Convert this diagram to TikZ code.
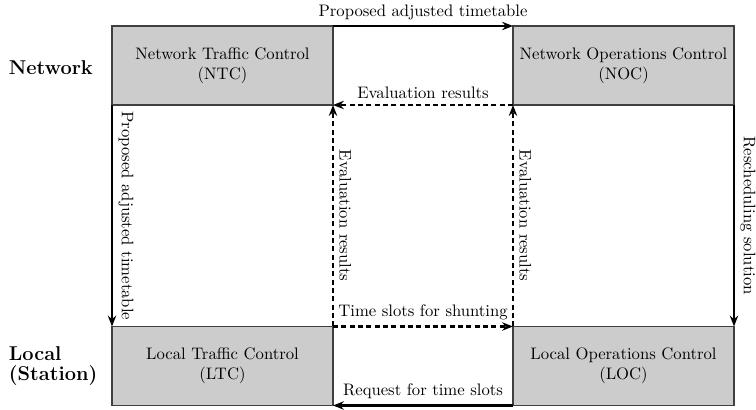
\documentclass[tikz,border=0pt]{standalone}
\usetikzlibrary{arrows.meta}
\begin{document}
\begin{tikzpicture}[x=0.6pt,y=-0.6pt,
  unit/.style={draw=black!75, fill=black!20, line width=0.7pt,
    minimum width=132.6pt, minimum height=47.4pt, inner sep=0pt, outer sep=0pt,
    align=center, font=\normalsize},
  flow/.style={line width=1.6pt, -{Stealth[length=6.5pt,width=5pt]}},
  reply/.style={flow, dash pattern=on 3pt off 2pt},
  level/.style={font=\large\bfseries, align=left, anchor=west},
  side/.style={midway, anchor=south, rotate=-90, inner sep=3pt}]
\useasboundingbox (0,0) rectangle (756,410);

% organisational units
\node[unit] (ntc) at (222.5,65.5) {Network Traffic Control\\(NTC)};
\node[unit] (noc) at (623.5,65.5) {Network Operations Control\\(NOC)};
\node[unit] (ltc) at (222.5,366) {Local Traffic Control\\(LTC)};
\node[unit] (loc) at (623.5,366) {Local Operations Control\\(LOC)};

% level labels
\node[level] (lnet) at (3,68) {Network};
\node[level] (lloc) at (3,366) {Local\\[-2pt](Station)};

% information flows
\draw[flow] (ntc.north east) -- node[above, inner sep=3pt] {Proposed adjusted timetable} (noc.north west);
\draw[reply] (noc.south west) -- node[above, inner sep=3pt] {Evaluation results} (ntc.south east);
\draw[flow] (ntc.south west) -- node[side] {Proposed adjusted timetable} (ltc.north west);
\draw[reply] (ltc.north east) -- node[side] {Evaluation results} (ntc.south east);
\draw[reply] (ltc.north east) -- node[above, inner sep=3pt] {Time slots for shunting} (loc.north west);
\draw[reply] (loc.north west) -- node[side] {Evaluation results} (noc.south west);
\draw[flow] (noc.south east) -- node[side] {Rescheduling solution} (loc.north east);
\draw[flow] (loc.south west) -- node[above, inner sep=3pt] {Request for time slots} (ltc.south east);
\end{tikzpicture}
\end{document}
